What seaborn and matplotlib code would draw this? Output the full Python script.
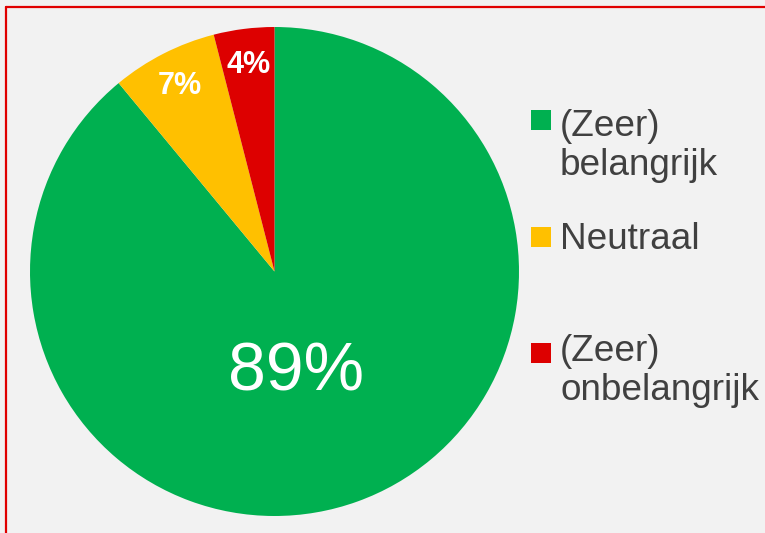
import matplotlib.pyplot as plt
import matplotlib.patches as mpatches
from matplotlib.lines import Line2D
import numpy as np
import seaborn as sns


sns.set_theme(style="white")
plt.rcParams['font.family'] = ['Liberation Sans', 'DejaVu Sans']

categories = ['(Zeer)\nbelangrijk', 'Neutraal', '(Zeer)\nonbelangrijk']
shares = [89, 7, 4]
colors = ['#00b050', '#ffc000', '#dd0000']

BG = '#f2f2f2'
TEXT = '#404040'
W, H = 765, 533

fig = plt.figure(figsize=(W / 100, H / 100), dpi=100, facecolor=BG)

# pie axes: centre at (274.5, 271.5) px, radius 244.5 px
cx, cy, r = 274.5, 271.5, 244.5
ax = fig.add_axes([(cx - r) / W, (H - cy - r) / H, 2 * r / W, 2 * r / H])
ax.set_facecolor(BG)

wedges, texts, autotexts = ax.pie(
    shares, colors=colors, startangle=90, counterclock=False,
    autopct='%d%%', pctdistance=0.85, radius=1,
    wedgeprops=dict(linewidth=0, antialiased=True),
    textprops=dict(color='white', fontsize=22, fontweight='bold'))
ax.set_xlim(-1, 1)
ax.set_ylim(-1, 1)
ax.axis('off')

# big label sits closer to the centre
big = autotexts[0]
w0 = wedges[0]
mid = np.deg2rad((w0.theta1 + w0.theta2) / 2)
big.set_position((0.41 * np.cos(mid) - 0.05, 0.41 * np.sin(mid) - 0.027))
big.set_fontsize(49)
big.set_fontweight('normal')

# legend, drawn by hand so the swatch lines up with the first text line
first_tops = [110, 227, 343]
last_baselines = [175, 249, 400]
for label, col, top, base in zip(categories, colors, first_tops, last_baselines):
    fig.add_artist(mpatches.Rectangle(
        (531 / W, (H - top - 20) / H), 20 / W, 20 / H,
        transform=fig.transFigure, facecolor=col, edgecolor='none'))
    fig.text(560 / W, (H - base) / H, label, fontsize=26.6, color=TEXT,
             ha='left', va='baseline', linespacing=1.14)

# red frame, cut off at the right and bottom edges
red = '#e00000'
fig.add_artist(Line2D([6 / W, 6 / W], [0, (H - 6.5) / H],
                      transform=fig.transFigure, color=red, linewidth=1.6))
fig.add_artist(Line2D([6 / W, 1], [(H - 6.5) / H, (H - 6.5) / H],
                      transform=fig.transFigure, color=red, linewidth=1.6))

plt.savefig('out.png', dpi=100, facecolor=BG)
plt.close()
